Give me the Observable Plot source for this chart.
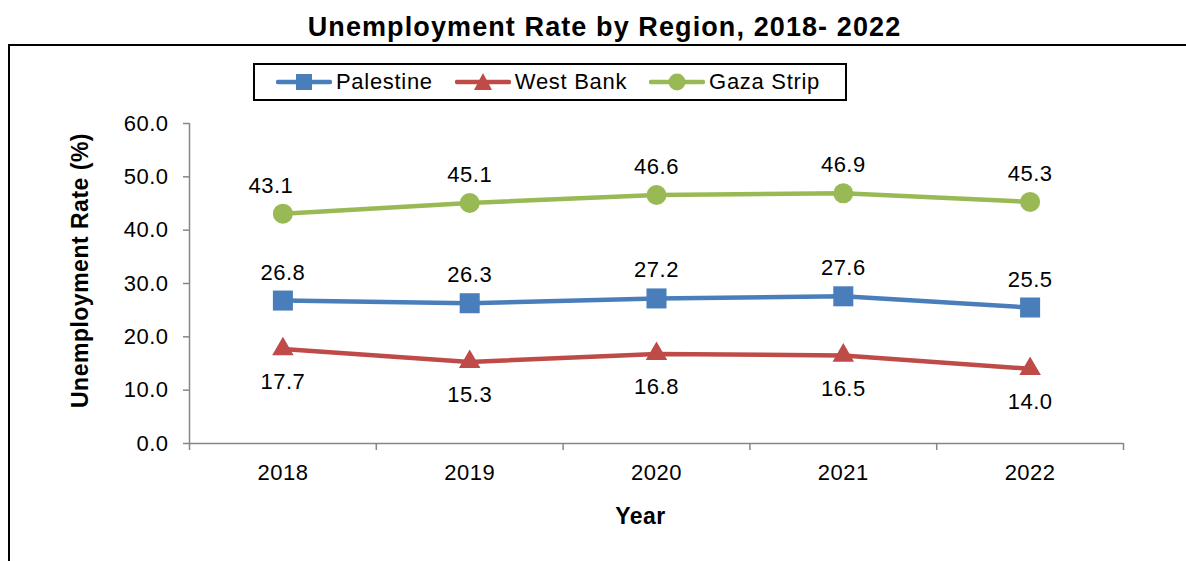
<!DOCTYPE html>
<html>
<head>
<meta charset="utf-8">
<script src="https://cdn.jsdelivr.net/npm/d3@7"></script>
<script src="https://cdn.jsdelivr.net/npm/@observablehq/plot@0.6"></script>
<style>
  html, body { margin: 0; padding: 0; background: #fff; }
  body { font-family: "Liberation Sans", Arial, sans-serif; }
  #page { position: relative; width: 1186px; height: 561px; overflow: hidden; background: #fff; }
  #frame { position: absolute; left: 8px; top: 44px; width: 1200px; height: 540px; border-top: 2px solid #000; border-left: 2px solid #000; }
  #title { position: absolute; left: 0; top: 14px; width: 1209px; text-align: center; font-weight: bold; font-size: 27px; line-height: 27px; letter-spacing: 1.1px; color: #000; white-space: nowrap; }
  #legend { position: absolute; left: 253px; top: 63px; width: 594px; height: 38px; box-sizing: border-box; border: 2px solid #000; display: flex; align-items: center; padding-left: 21px; background: #fff; z-index: 2; }
  .item { display: flex; align-items: center; margin-right: 22px; }
  .item span { margin-left: 4px; font-size: 22px; letter-spacing: 0.7px; color: #000; white-space: nowrap; }
  #chart { position: absolute; left: 0; top: 100px; z-index: 1; }
</style>
</head>
<body>
<div id="page">
  <div id="frame"></div>
  <div id="title"></div>
  <div id="legend"></div>
  <div id="chart"></div>
</div>
<script>
// ---- data ----
const chartTitle = "Unemployment Rate by Region, 2018- 2022";
const xTitle = "Year";
const yTitle = "Unemployment Rate (%)";
const years = [2018, 2019, 2020, 2021, 2022];
const seriesNames = ["Palestine", "West Bank", "Gaza Strip"];
const palestine = [26.8, 26.3, 27.2, 27.6, 25.5];
const westBank = [17.7, 15.3, 16.8, 16.5, 14.0];
const gaza = [43.1, 45.1, 46.6, 46.9, 45.3];
const yTicks = [0, 10, 20, 30, 40, 50, 60];

// ---- styling (not data) ----
const colors = ["#4a7ebb", "#be4b48", "#98b954"];
const symbols = ["square", "triangle", "circle"];
const radii = [11.3, 8, 10];
const labelDy = [-28, 33, -28];
const gray = "#868686";
const font = '"Liberation Sans", Arial, sans-serif';

const seriesValues = [palestine, westBank, gaza];
const rows = years.flatMap((yr, i) =>
  seriesNames.map((name, k) => ({year: yr, series: name, value: seriesValues[k][i]}))
);
const bounds = [years[0] - 0.5, ...years.map(y => y + 0.5)];

document.getElementById("title").textContent = chartTitle;

// legend
const legend = document.getElementById("legend");
seriesNames.forEach((name, k) => {
  const item = document.createElement("div");
  item.className = "item";
  const c = colors[k];
  let marker;
  if (symbols[k] === "square") marker = `<rect x="20" y="3" width="16" height="16" fill="${c}"/>`;
  else if (symbols[k] === "triangle") marker = `<path d="M28,2 L37,19 L19,19 Z" fill="${c}"/>`;
  else marker = `<circle cx="28" cy="11" r="8.5" fill="${c}"/>`;
  item.innerHTML = `<svg width="56" height="22"><line x1="2" y1="11" x2="54" y2="11" stroke="${c}" stroke-width="4.5" stroke-linecap="round"/>${marker}</svg><span>${name}</span>`;
  legend.appendChild(item);
});

const marks = [
  Plot.ruleY([0], {x1: bounds[0], x2: bounds[bounds.length - 1], stroke: gray, strokeWidth: 1.5}),
  Plot.ruleX([bounds[0]], {y1: yTicks[0], y2: yTicks[yTicks.length - 1], stroke: gray, strokeWidth: 1.5}),
  Plot.axisY({ticks: yTicks, tickSize: 6, tickPadding: 15, tickFormat: d => d.toFixed(1), stroke: gray, strokeWidth: 1.5, fill: "black", label: null}),
  Plot.axisX({ticks: bounds, tickSize: 7, stroke: gray, strokeWidth: 1.5, fill: "none", label: null}),
  Plot.axisX({ticks: years, tickSize: 0, tickPadding: 21, tickFormat: d => String(d), fill: "black", label: null}),
  Plot.line(rows, {x: "year", y: "value", z: "series", stroke: "series", strokeWidth: 4.5})
];
seriesNames.forEach((name, k) => {
  const sub = rows.filter(d => d.series === name);
  marks.push(Plot.dot(sub, {x: "year", y: "value", fill: "series", symbol: () => symbols[k], r: radii[k], stroke: "none"}));
});
seriesNames.forEach((name, k) => {
  const sub = rows.filter(d => d.series === name);
  const first = sub.filter((d, i) => i === 0 && k === 2);
  const rest = sub.filter(d => !first.includes(d));
  marks.push(Plot.text(rest, {x: "year", y: "value", text: d => d.value.toFixed(1), dy: labelDy[k], fill: "black", lineAnchor: "middle"}));
  if (first.length) marks.push(Plot.text(first, {x: "year", y: "value", text: d => d.value.toFixed(1), dy: labelDy[k], dx: -12, fill: "black", lineAnchor: "middle"}));
});
marks.push(Plot.text([xTitle], {frameAnchor: "bottom", text: d => d, dy: 73, dx: -16, fontWeight: "bold", fontSize: 23, fill: "black", textAnchor: "middle", lineAnchor: "middle"}));
marks.push(Plot.text([yTitle], {frameAnchor: "left", text: d => d, rotate: -90, dx: -109, dy: -13, fontWeight: "bold", fontSize: 23, fill: "black", textAnchor: "middle", lineAnchor: "middle"}));

const chart = Plot.plot({
  width: 1186,
  height: 450,
  marginLeft: 189,
  marginRight: 63,
  marginTop: 23,
  marginBottom: 107,
  style: {fontFamily: font, fontSize: "22px", letterSpacing: "0.5px", color: "black", background: "transparent", overflow: "visible"},
  x: {domain: [bounds[0], bounds[bounds.length - 1]], label: null},
  y: {domain: [yTicks[0], yTicks[yTicks.length - 1]], label: null},
  color: {domain: seriesNames, range: colors},
  symbol: {domain: symbols, range: symbols},
  marks
});
document.getElementById("chart").appendChild(chart);
</script>
</body>
</html>
